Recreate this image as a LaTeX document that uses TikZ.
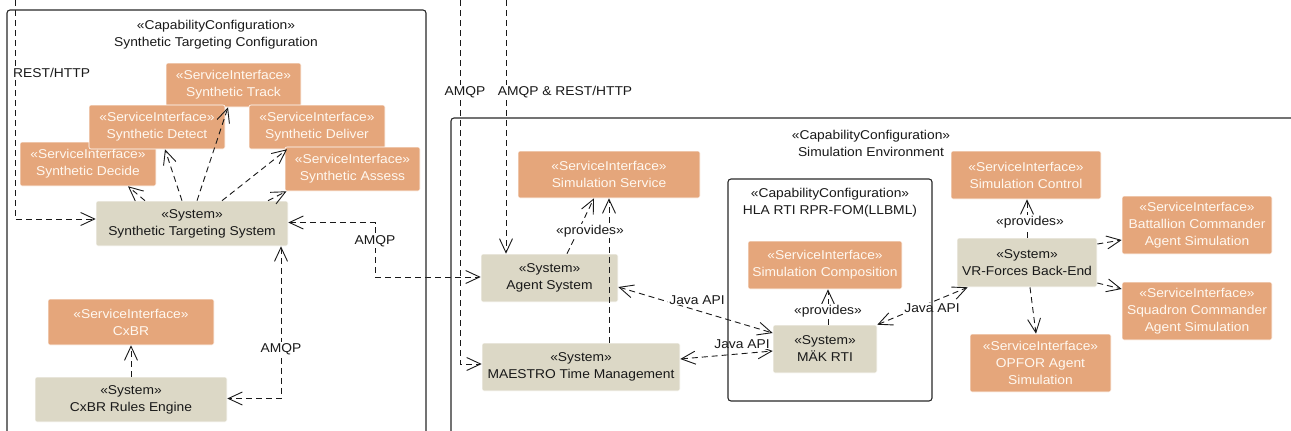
\documentclass[tikz,border=0pt]{standalone}
\usepackage{fontspec}
\setmainfont{Liberation Sans}[FakeStretch=1.08]
\usetikzlibrary{arrows.meta,calc}

\definecolor{siFill}{RGB}{229,166,123}
\definecolor{sysFill}{RGB}{220,216,198}
\definecolor{siText}{RGB}{255,248,240}
\definecolor{ink}{RGB}{25,25,25}
\definecolor{frameInk}{RGB}{40,40,40}

\begin{document}
\begin{tikzpicture}[x=1pt,y=-1pt,
  every node/.style={font=\fontsize{12.8}{17}\selectfont, text=ink},
  box/.style={rounded corners=2pt, draw=white, line width=0.6pt, align=center, inner sep=0pt},
  sibox/.style={box, fill=siFill, text=siText},
  sysbox/.style={box, fill=sysFill, text=ink},
  frameline/.style={draw=frameInk, line width=1.1pt, rounded corners=3pt},
  titletext/.style={align=center, inner sep=0pt},
  dep/.style={draw=ink, line width=0.9pt, dash pattern=on 6pt off 4pt},
  lbl/.style={fill=white, inner sep=1pt},
  >={Straight Barb[length=14pt,width=13pt]}
]
\useasboundingbox (0,0) rectangle (1291,431);
\clip (0,0) rectangle (1291,431);

% ---------- Synthetic Targeting Configuration ----------
\node[sibox, minimum width=136pt, minimum height=44pt] (decide)  at (88,164)    {«ServiceInterface»\\Synthetic Decide};
\node[sibox, minimum width=135pt, minimum height=44pt] (track)   at (233.5,85)  {«ServiceInterface»\\Synthetic Track};
\node[sibox, minimum width=136pt, minimum height=44pt] (detect)  at (157,127)   {«ServiceInterface»\\Synthetic Detect};
\node[sibox, minimum width=136pt, minimum height=44pt] (deliver) at (317,127)   {«ServiceInterface»\\Synthetic Deliver};
\node[sibox, minimum width=135pt, minimum height=44pt] (assess)  at (352.5,169) {«ServiceInterface»\\Synthetic Assess};
\node[sysbox, minimum width=192pt, minimum height=45pt] (sts)    at (192,223.5) {«System»\\Synthetic Targeting System};
\node[sibox, minimum width=166pt, minimum height=46pt] (cxbr)    at (131,322)   {«ServiceInterface»\\CxBR};
\node[sysbox, minimum width=192pt, minimum height=45pt] (cxbre)  at (131,399.5) {«System»\\CxBR Rules Engine};

% ---------- Simulation Environment ----------
\node[sibox, minimum width=182pt, minimum height=47pt] (simsvc)  at (609,174.5) {«ServiceInterface»\\Simulation Service};
\node[sysbox, minimum width=137pt, minimum height=48pt] (agent)  at (549.5,278) {«System»\\Agent System};
\node[sysbox, minimum width=198pt, minimum height=48pt] (maestro) at (581,367)  {«System»\\MAESTRO Time Management};
\node[sibox, minimum width=154pt, minimum height=48pt] (simcomp) at (825,265)   {«ServiceInterface»\\Simulation Composition};
\node[sysbox, minimum width=104pt, minimum height=48pt] (mak)    at (825,349)   {«System»\\MÄK RTI};
\node[sibox, minimum width=150pt, minimum height=48pt] (simctl)  at (1026,175)  {«ServiceInterface»\\Simulation Control};
\node[sysbox, minimum width=140pt, minimum height=49pt] (vrf)    at (1027,262.5) {«System»\\VR-Forces Back-End};
\node[sibox, minimum width=150pt, minimum height=58pt] (batt)    at (1197,225)  {«ServiceInterface»\\Battallion Commander\\Agent Simulation};
\node[sibox, minimum width=150pt, minimum height=58pt] (squad)   at (1197,311)  {«ServiceInterface»\\Squadron Commander\\Agent Simulation};
\node[sibox, minimum width=141pt, minimum height=58pt] (opfor)   at (1040.5,363) {«ServiceInterface»\\OPFOR Agent\\Simulation};

% free ends of the links entering from above
\coordinate (restTop) at (15,0);
\coordinate (amqpTop) at (460,0);
\coordinate (mixTop)  at (506,0);

% ---------- connectors ----------
\draw[dep,->] ([xshift=-47pt]sts.north) -- ([xshift=40pt]decide.south);
\draw[dep,->] ([xshift=-10pt]sts.north) -- ([xshift=8pt]detect.south);
\draw[dep,->] ([xshift=5pt]sts.north)   -- ([xshift=-5.5pt]track.south);
\draw[dep,->] ([xshift=30pt]sts.north)  -- ([xshift=-30pt]deliver.south);
\draw[dep,->] ([xshift=76pt]sts.north)  -- ([xshift=-66pt]assess.south);

\draw[dep,->] (restTop) |- ([yshift=4.5pt]sts.west);
\draw[dep,<->] ([yshift=1pt]sts.east) -- ++(87,0) |- ([yshift=1pt]agent.west);
\draw[dep,<->] ([xshift=89pt]sts.south) |- ([yshift=1pt]cxbre.east);
\draw[dep,->] (cxbre.north) -- (cxbr.south);

\draw[dep,->] (amqpTop) |- ([yshift=3pt]maestro.west);
\draw[dep,->] (mixTop) -- (mixTop |- agent.north);

\draw[dep,->] ([xshift=17.5pt]agent.north) -- ([xshift=-15pt]simsvc.south);
\draw[dep,->] (simsvc.south |- maestro.north) -- (simsvc.south);

\draw[dep,<->] ([yshift=-9pt]agent.east) -- ([yshift=16pt]mak.west);
\draw[dep,<->] ([yshift=8pt]maestro.east) -- ([yshift=-2pt]mak.west);
\draw[dep,<->] (mak.north east) -- ([xshift=11pt]vrf.south west);
\draw[dep,->] ([xshift=3pt]mak.north) -- ([xshift=3pt]simcomp.south);

\draw[dep,->] (vrf.north) -- (vrf.north |- simctl.south);
\draw[dep,->] ([yshift=18.5pt]vrf.east) -- ([yshift=-15pt]batt.west);
\draw[dep,->] ([yshift=-20.5pt]vrf.east) -- ([yshift=22pt]squad.west);
\draw[dep,->] ([xshift=3pt]vrf.south) -- ([xshift=-4.5pt]opfor.north);

% ---------- connector labels ----------
\node[lbl, anchor=west] (lRest) at (12,73) {REST/HTTP};
\node[lbl] (lAmqpA) at (375,241) {AMQP};
\node[lbl] (lAmqpB) at (281,349) {AMQP};
\node[lbl] (lAmqpC) at (465,92)  {AMQP};
\node[lbl] (lMix)   at (565,92)  {AMQP \& REST/HTTP};
\node[lbl] (lProvA) at (590,231) {«provides»};
\node[lbl] (lProvB) at (828,311) {«provides»};
\node[lbl] (lProvC) at (1030,222) {«provides»};
\node[lbl] (lJavaA) at (697,300) {Java API};
\node[lbl] (lJavaB) at (742,344) {Java API};
\node[lbl] (lJavaC) at (932,308) {Java API};

% ---------- capability configuration frames ----------
\draw[frameline] (7,10) rectangle (426,460);
\node[titletext] (steTitle) at (216,35) {«CapabilityConfiguration»\\Synthetic Targeting Configuration};

\draw[frameline] (451,118) rectangle (1320,460);
\node[titletext] (seTitle) at (871,143) {«CapabilityConfiguration»\\Simulation Environment};

\draw[frameline] (728,179) rectangle (932,401);
\node[titletext] (hlaTitle) at (830,203) {«CapabilityConfiguration»\\HLA RTI RPR-FOM(LLBML)};
\end{tikzpicture}
\end{document}
